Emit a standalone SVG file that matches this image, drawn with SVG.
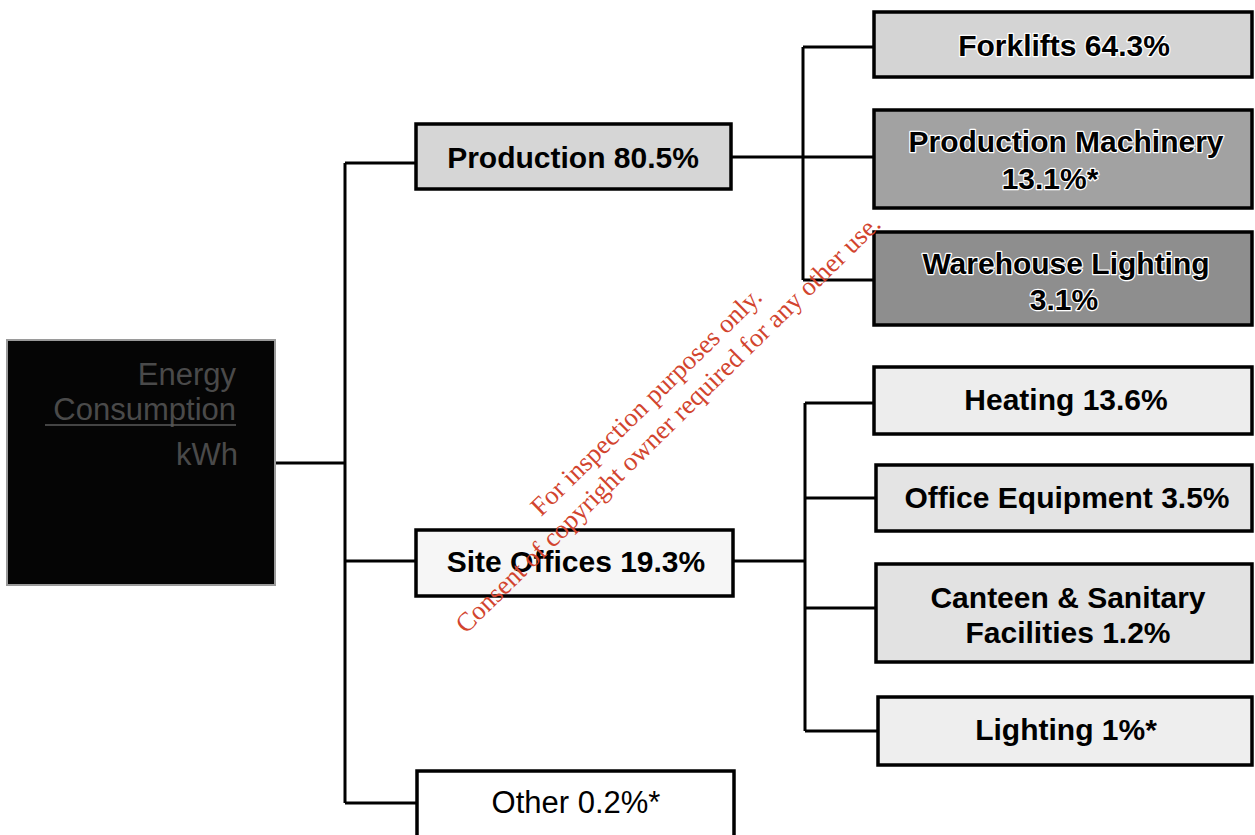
<svg xmlns="http://www.w3.org/2000/svg" width="1255" height="835" viewBox="0 0 1255 835">
<style>
.box{stroke:#000;stroke-width:3.5}
.lbl{font-family:"Liberation Sans",Arial,sans-serif;font-size:30px;font-weight:bold;fill:#000;text-anchor:middle}
.halo{paint-order:stroke;stroke:#fff;stroke-width:2.5px;stroke-linejoin:round}
.reg{font-weight:normal}
.conn{stroke:#000;stroke-width:3;fill:none}
.root{font-family:"Liberation Sans",Arial,sans-serif;font-size:31px;fill:#4a4a4a;text-anchor:end}
.wm{font-family:"Liberation Serif","Times New Roman",serif;font-size:26.5px;fill:#d2442e;text-anchor:middle}
</style>
<rect width="1255" height="835" fill="#fff"/>
<g id="connectors">
<path class="conn" d="M275 463 H345 M345 163 V803 M345 163 H416 M345 561 H416 M345 803 H417"/>
<path class="conn" d="M731 157 H874 M803 47 V280 M803 47 H874 M803 280 H874"/>
<path class="conn" d="M733 561 H805 M805 403 V731 M805 403 H874 M805 498 H876 M805 608 H876 M805 731 H878"/>
</g>
<g id="root">
<rect x="7" y="340" width="268" height="245" fill="#050505" stroke="#9a9a9a" stroke-width="2"/>
<text class="root" x="236" y="385">Energy</text>
<text class="root" x="236" y="420">Consumption</text>
<line x1="45" y1="425" x2="236" y2="425" stroke="#5a5a5a" stroke-width="1.5"/>
<text class="root" x="238" y="465" fill="#333">kWh</text>
</g>
<g id="production">
<rect class="box" x="416" y="124" width="315" height="65" fill="#d6d6d6"/>
<text class="lbl" x="573" y="168">Production 80.5%</text>
</g>
<g id="site-offices">
<rect class="box" x="416" y="530" width="317" height="66" fill="#f6f6f6"/>
<text class="lbl" x="576" y="572">Site Offices 19.3%</text>
</g>
<g id="other">
<rect class="box" x="417" y="771" width="317" height="70" fill="#fff"/>
<text class="lbl reg" x="576" y="813" style="font-size:31px">Other 0.2%*</text>
</g>
<g id="forklifts">
<rect class="box" x="874" y="12" width="378" height="65" fill="#d4d4d4"/>
<text class="lbl halo" x="1064" y="56">Forklifts 64.3%</text>
</g>
<g id="production-machinery">
<rect class="box" x="874" y="110" width="378" height="98" fill="#a2a2a2"/>
<text class="lbl halo" x="1066" y="152">Production Machinery</text>
<text class="lbl halo" x="1050" y="189">13.1%*</text>
</g>
<g id="warehouse-lighting">
<rect class="box" x="874" y="232" width="378" height="93" fill="#8e8e8e"/>
<text class="lbl halo" x="1066" y="274">Warehouse Lighting</text>
<text class="lbl halo" x="1064" y="310">3.1%</text>
</g>
<g id="heating">
<rect class="box" x="874" y="367" width="378" height="67" fill="#ededed"/>
<text class="lbl" x="1066" y="410">Heating 13.6%</text>
</g>
<g id="office-equipment">
<rect class="box" x="876" y="465" width="376" height="66" fill="#e4e4e4"/>
<text class="lbl" x="1067" y="508">Office Equipment 3.5%</text>
</g>
<g id="canteen">
<rect class="box" x="876" y="564" width="376" height="98" fill="#e2e2e2"/>
<text class="lbl" x="1068" y="608">Canteen &amp; Sanitary</text>
<text class="lbl" x="1068" y="643">Facilities 1.2%</text>
</g>
<g id="lighting">
<rect class="box" x="878" y="697" width="374" height="68" fill="#eeeeee"/>
<text class="lbl" x="1066" y="740">Lighting 1%*</text>
</g>
<g id="watermark" transform="translate(674 430) rotate(-44.5)">
<text class="wm" x="0" y="-31">For inspection purposes only.</text>
<text class="wm" x="0" y="0">Consent of copyright owner required for any other use.</text>
</g>
</svg>
